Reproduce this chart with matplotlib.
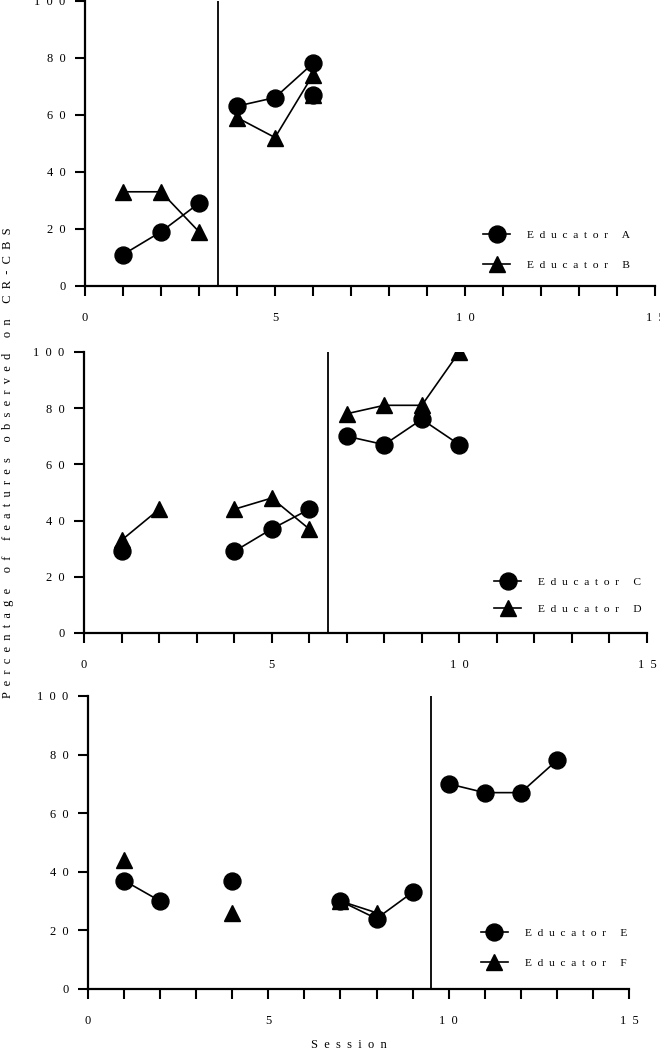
import numpy as np
import matplotlib.pyplot as plt

plt.rcParams['font.family'] = ['Liberation Serif', 'DejaVu Serif']
plt.rcParams['font.size'] = 8.9

# panel 1
sessions_ab = [1, 2, 3, 4, 5, 6]
educator_a = [11, 19, 29, 63, 66, 78]
educator_b = [33, 33, 19, 59, 52, 74]
extra_session_ab = [6]
extra_a = [67]
extra_b = [67]
phase_ab = 3.5

# panel 2
sessions_cd = [1, 2, 3, 4, 5, 6, 7, 8, 9, 10]
educator_c = [29, np.nan, np.nan, 29, 37, 44, 70, 67, 76, 67]
educator_d = [33, 44, np.nan, 44, 48, 37, 78, 81, 81, 100]
phase_cd = 6.5

# panel 3
sessions_ef = [1, 2, 3, 4, 5, 6, 7, 8, 9, 10, 11, 12, 13]
educator_e = [37, 30, np.nan, 37, np.nan, np.nan, 30, 24, 33, 70, 67, 67, 78]
educator_f = [44, np.nan, np.nan, 26, np.nan, np.nan, 30, 26,
              np.nan, np.nan, np.nan, np.nan, np.nan]
phase_ef = 9.5

x_ticks = [0, 5, 10, 15]
y_ticks = [0, 20, 40, 60, 80, 100]


def spaced(s, gap='  '):
    return gap.join(s)


def draw_panel(ax, sessions, circ, tri, phase, names, leg_xy, leg_sp):
    x = np.array(sessions, float)
    circ = np.array(circ, float)
    tri = np.array(tri, float)
    style = dict(color='black', lw=1.2, ms=12.2, zorder=3)
    handles = []
    for mask in (x < phase, x > phase):
        lt, = ax.plot(x[mask], tri[mask], '-^', **style)
        lc, = ax.plot(x[mask], circ[mask], '-o', **dict(style, zorder=4))
        if not handles:
            handles = [lc, lt]
    ax.axvline(phase, color='black', lw=1.3, zorder=2)

    ax.set_xlim(0, 15)
    ax.set_ylim(0, 100)
    ax.set_xticks(x_ticks)
    ax.set_xticks(range(16), minor=True)
    ax.set_xticklabels([spaced(str(t)) for t in x_ticks])
    ax.set_yticks(y_ticks)
    ax.set_yticklabels([spaced(str(t)) for t in y_ticks])
    ax.tick_params(axis='x', which='both', direction='out', length=7,
                   width=1.5, pad=12)
    ax.tick_params(axis='y', direction='out', length=7, width=1.5, pad=7)
    for side in ('top', 'right'):
        ax.spines[side].set_visible(False)
    for side in ('left', 'bottom'):
        ax.spines[side].set_linewidth(1.6)

    ax.legend(handles, [spaced(n) for n in names], loc='center left',
              bbox_to_anchor=leg_xy, frameon=False, borderpad=0,
              borderaxespad=0, handlelength=2.4, handletextpad=1.5,
              labelspacing=leg_sp, numpoints=1, fontsize=8.2)


fig = plt.figure(figsize=(6.6, 10.53), dpi=100)

ax1 = fig.add_axes([0.1288, 0.7284, 0.8636, 0.2711])
draw_panel(ax1, sessions_ab, educator_a, educator_b, phase_ab,
           ['Educator A', 'Educator B'], (0.698, 0.126), 1.8)
ax1.plot(extra_session_ab, extra_b, '^', color='black', ms=12.2, zorder=3)
ax1.plot(extra_session_ab, extra_a, 'o', color='black', ms=12.2, zorder=4)

ax2 = fig.add_axes([0.1273, 0.3989, 0.853, 0.2669])
draw_panel(ax2, sessions_cd, educator_c, educator_d, phase_cd,
           ['Educator C', 'Educator D'], (0.728, 0.132), 1.5)

ax3 = fig.add_axes([0.1333, 0.0608, 0.8197, 0.2783])
draw_panel(ax3, sessions_ef, educator_e, educator_f, phase_ef,
           ['Educator E', 'Educator F'], (0.726, 0.139), 1.75)

fig.text(0.012, 0.561, spaced('Percentage of features observed on CR-CBS'),
         rotation=90, ha='center', va='center')
fig.text(0.529, 0.0075, spaced('Session'), ha='center', va='center')

fig.savefig('out.png', dpi=100)
